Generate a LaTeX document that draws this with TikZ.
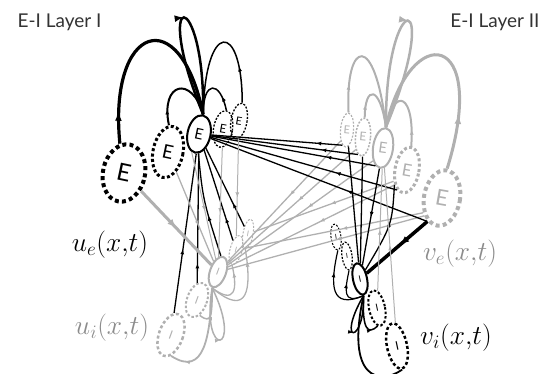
\documentclass[tikz,border=0pt]{standalone}
\usepackage{fontspec}
\setsansfont{Lato}
\newfontfamily\titlefont{Lato}
\usetikzlibrary{shapes.geometric,arrows.meta,decorations.markings}
\definecolor{gr}{gray}{0.69}
\definecolor{grtext}{gray}{0.55}
\begin{document}
\begin{tikzpicture}[x=1pt,y=-1pt,
  ell/.style={ellipse,inner sep=0pt,draw},
  lab/.style={font=\sffamily\fontsize{#1}{#1}\selectfont},
  ma/.style={postaction={decorate},decoration={markings,mark=at position #1 with {\arrow{Latex[length=5pt,width=4pt]}}}},
  mab/.style={postaction={decorate},decoration={markings,mark=at position #1 with {\arrow{Latex[length=9pt,width=7pt]}}}},
  thind/.style={dash pattern=on 2pt off 1.5pt},
  midd/.style={dash pattern=on 3pt off 2.4pt},
  bigd/.style={dash pattern=on 4pt off 3.2pt},
  bline/.style={draw=black,line width=1.3pt},
  gline/.style={draw=gr,line width=1.3pt},
  mathlab/.style={font=\fontsize{20.74}{22}\selectfont,scale=1.32}
]
\useasboundingbox (0,0) rectangle (553,374);

% ---------- Layer I excitatory (black)
\node[ell,line width=4pt,bigd,minimum width=42pt,minimum height=58pt,rotate=-12,lab=24] (E1) at (124,173) {E};
\node[ell,line width=3pt,midd,minimum width=30pt,minimum height=52pt,rotate=-12,lab=19] (E2) at (168,152) {E};
\node[ell,line width=2pt,minimum width=23pt,minimum height=38pt,rotate=-12,lab=15] (E3) at (199,134) {E};
\node[ell,line width=1.3pt,thind,minimum width=19pt,minimum height=37pt,rotate=-10,lab=12] (E4) at (223,129) {E};
\node[ell,line width=1.3pt,thind,minimum width=16pt,minimum height=36pt,rotate=-10,lab=11] (E5) at (239,121) {E};

% ---------- Layer I inhibitory (gray)
\node[ell,draw=gr,text=gr,line width=2pt,minimum width=16pt,minimum height=32pt,rotate=-20,lab=10] (iS) at (218,272) {I};
\node[ell,draw=gr,text=gr,line width=1pt,thind,minimum width=12pt,minimum height=30pt,rotate=-15,lab=8] (iD1) at (236,250) {I};
\node[ell,draw=gr,text=gr,line width=1pt,thind,minimum width=10pt,minimum height=30pt,rotate=-10,lab=8] (iD2) at (248,234) {I};
\node[ell,draw=gr,text=gr,line width=2pt,dash pattern=on 2.5pt off 2pt,minimum width=20pt,minimum height=36pt,rotate=-20,lab=11] (iL1) at (197,300) {I};
\node[ell,draw=gr,text=gr,line width=2.5pt,dash pattern=on 3pt off 2.4pt,minimum width=24pt,minimum height=44pt,rotate=-20,lab=12] (iL2) at (171,335) {I};

% ---------- Layer II excitatory (gray)
\node[ell,draw=gr,text=gr,line width=1.2pt,thind,minimum width=13pt,minimum height=34pt,rotate=-5,lab=11] (eA) at (347,130) {E};
\node[ell,draw=gr,text=gr,line width=1.5pt,thind,minimum width=15pt,minimum height=38pt,rotate=-5,lab=12] (eB) at (363,137) {E};
\node[ell,draw=gr,text=gr,line width=2pt,minimum width=20pt,minimum height=40pt,rotate=-8,lab=15] (eC) at (383,148) {E};
\node[ell,draw=gr,text=gr,line width=3pt,midd,minimum width=24pt,minimum height=46pt,rotate=-10,lab=17] (eD) at (407,170) {E};
\node[ell,draw=gr,text=gr,line width=4pt,bigd,minimum width=36pt,minimum height=56pt,rotate=-10,lab=22] (eE) at (442,198) {E};

% ---------- Layer II inhibitory (black)
\node[ell,line width=2pt,minimum width=14pt,minimum height=32pt,rotate=12,lab=9] (jS) at (360,279) {I};
\node[ell,line width=1pt,thind,minimum width=10pt,minimum height=26pt,rotate=8,lab=7] (jA) at (336,237) {I};
\node[ell,line width=1.2pt,thind,minimum width=10pt,minimum height=28pt,rotate=8,lab=7] (jB) at (347,256) {I};
\node[ell,line width=2pt,dash pattern=on 2.5pt off 2pt,minimum width=16pt,minimum height=36pt,rotate=12,lab=10] (jC) at (377,308) {I};
\node[ell,line width=2.5pt,dash pattern=on 3pt off 2.4pt,minimum width=20pt,minimum height=46pt,rotate=12,lab=12] (jD) at (397,346) {I};

% ---------- Layer I loops (black)
\draw[line width=3.2pt,mab=0.15] (E1.110) .. controls (108,25) and (180,0) .. (E3.north);
\draw[line width=2.5pt,mab=0.5] (E3.north) .. controls (150,-15) and (205,-15) .. (E3.north);
\draw[line width=2pt,ma=0.2] (E2.100) .. controls (160,82) and (192,75) .. (E3.north);
\draw[line width=1.5pt,ma=0.25] (E4.north) .. controls (220,80) and (203,80) .. (E3.north);
\draw[line width=1.5pt,ma=0.25] (E5.north) .. controls (242,20) and (205,20) .. (E3.north);

% ---------- Layer II loops (gray)
\draw[gr,line width=2.5pt,mab=0.5] (eC.north) .. controls (385,-15) and (445,-15) .. (eC.north);
\draw[gr,line width=2pt,ma=0.2] (eA.north) .. controls (345,40) and (375,30) .. (eC.north);
\draw[gr,line width=2pt,ma=0.2] (eB.north) .. controls (365,85) and (380,85) .. (eC.north);
\draw[gr,line width=2pt,ma=0.2] (eD.north) .. controls (415,95) and (395,85) .. (eC.north);
\draw[gr,line width=3pt,mab=0.25] (eE.north) .. controls (490,30) and (410,20) .. (eC.north);

% ---------- Layer I inhibitory loops (gray)
\draw[gr,line width=1.8pt,ma=0.85] (iS.south) .. controls (210,335) and (205,378) .. (iL2.-70);
\draw[gr,line width=1.5pt,ma=0.8] (iS.south) .. controls (212,315) and (212,325) .. (iL1.-60);
\draw[gr,line width=1.5pt,ma=0.5] (iS.south) .. controls (200,360) and (245,355) .. (iS.south);
\draw[gr,line width=1.3pt,ma=0.85] (iS.south) .. controls (235,305) and (238,290) .. (iD1.south);
\draw[gr,line width=1.3pt,ma=0.85] (iS.south) .. controls (248,318) and (252,290) .. (iD2.south);

% ---------- Layer II inhibitory loops (black)
\draw[line width=1.2pt,ma=0.7] (jS.south) .. controls (330,310) and (330,285) .. (jA.south);
\draw[line width=1.2pt,ma=0.7] (jS.south) .. controls (342,305) and (345,290) .. (jB.south);
\draw[line width=1.5pt,ma=0.5] (jS.south) .. controls (335,345) and (365,345) .. (jS.south);
\draw[line width=1.5pt,ma=0.85] (jS.south) .. controls (362,330) and (368,335) .. (jC.-100);
\draw[line width=1.8pt,ma=0.9] (jS.south) .. controls (345,380) and (380,385) .. (jD.south);

% ---------- cross connections
\draw[gline,ma=0.45] (eA.-115) -- (iS);
\draw[gline,ma=0.45] (eB.-115) -- (iS);
\draw[gline,ma=0.45] (eC.-120) -- (iS);
\draw[gline,ma=0.45] (eD.-120) -- (iS);
\draw[gline,ma=0.45] (eE.-125) -- (iS);
\draw[gline,ma=0.45] (eE.-132) -- (iD1);
\draw[gline,ma=0.45] (eD.-130) -- (iD2);
\draw[bline,ma=0.2] (eA.-102) -- (E3);
\draw[bline,ma=0.25] (eB.-101) -- (E3);
\draw[bline,ma=0.3] (eC.-105) -- (E3);
\draw[bline,ma=0.33] (eD.-107) -- (E3);
\draw[bline,ma=0.37] (eE.-112) -- (E3);
\draw[bline,ma=0.4] (iL2) -- (E3);
\draw[bline,ma=0.15] (iL1) -- (E3);
\draw[bline,ma=0.4] (iS.100) .. controls (203,200) .. (E3.-80);
\draw[bline,ma=0.25] (iD1) -- (E3);
\draw[bline,ma=0.3] (iD2) -- (E3);
\draw[gr,line width=3pt,mab=0.5] (E1) -- (iS);
\draw[gline,ma=0.6] (E2) -- (iS);
\draw[gr,line width=1pt,ma=0.55] (E3.-100) -- (iS.120);
\draw[gr,line width=1pt,ma=0.6] (E4) -- (iS);
\draw[gr,line width=1pt,ma=0.6] (E5) -- (iD1);
\draw[bline] (eA) -- (jS);
\draw[bline] (eB) -- (jS);
\draw[bline,ma=0.5] (eC) -- (jS);
\draw[bline,ma=0.5] (eD.-120) .. controls (392,225) .. (jS);
\draw[black,line width=3.5pt,mab=0.45] (eE.-112) -- (jS);
\draw[gr,line width=1pt,ma=0.5] (jC) -- (eC);
\draw[gr,line width=1pt,ma=0.5] (jD) -- (eC);

% ---------- labels
\node[anchor=base west,font=\titlefont\fontsize{19}{19}\selectfont,text=black!80] (t1) at (14,28) {E-I Layer I};
\node[anchor=base east,font=\titlefont\fontsize{19}{19}\selectfont,text=black!80] (t2) at (543,28) {E-I Layer II};
\node[mathlab] (ue) at (110,245) {$u_e(x{,}t)$};
\node[mathlab,text=grtext] (ui) at (112,328) {$u_i(x{,}t)$};
\node[mathlab,text=grtext] (ve) at (460,254) {$v_e(x{,}t)$};
\node[mathlab] (vi) at (456,338) {$v_i(x{,}t)$};
\end{tikzpicture}
\end{document}
